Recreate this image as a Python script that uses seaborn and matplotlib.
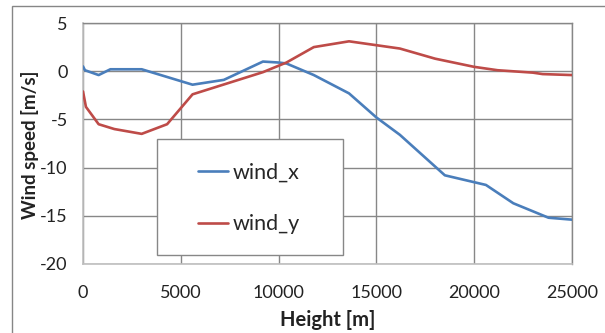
import matplotlib
matplotlib.use("Agg")
import matplotlib.pyplot as plt
from matplotlib.patches import Rectangle
from matplotlib.lines import Line2D
import seaborn as sns
import pandas as pd

# ---- data ----
wind_x_height = [0, 100, 800, 1400, 3000, 5600, 7200, 9200, 10000, 10400, 11800,
                 13600, 15000, 16200, 18500, 20600, 22000, 23800, 25000]
wind_x_speed = [0.5, 0.1, -0.4, 0.2, 0.2, -1.4, -0.9, 1.0, 0.9, 0.8, -0.4,
                -2.3, -4.8, -6.6, -10.8, -11.8, -13.7, -15.2, -15.4]

wind_y_height = [0, 150, 800, 1600, 3000, 4300, 5600, 9200, 10400, 11800, 13600,
                 16200, 18000, 20000, 21200, 23000, 23500, 25000]
wind_y_speed = [-2.1, -3.7, -5.5, -6.0, -6.5, -5.5, -2.4, -0.1, 0.9, 2.5, 3.1,
                2.35, 1.3, 0.45, 0.1, -0.15, -0.3, -0.4]

series_names = ["wind_x", "wind_y"]
series_colors = ["#4A7EBB", "#BE4B48"]
x_ticks = [0, 5000, 10000, 15000, 20000, 25000]
y_ticks = [-20, -15, -10, -5, 0, 5]
x_label = "Height [m]"
y_label = "Wind speed [m/s]"

df = pd.concat([
    pd.DataFrame({"Height": wind_x_height, "Speed": wind_x_speed, "series": series_names[0]}),
    pd.DataFrame({"Height": wind_y_height, "Speed": wind_y_speed, "series": series_names[1]}),
], ignore_index=True)

sns.set_style("white")
plt.rcParams["font.family"] = ["Lato", "DejaVu Sans"]

W, H = 605, 333
fig = plt.figure(figsize=(W / 100, H / 100), dpi=100)
ax = fig.add_axes([83 / W, 1 - 264 / H, 489 / W, 241 / H])

grid_col = "#878787"

sns.lineplot(data=df, x="Height", y="Speed", hue="series", palette=series_colors,
             sort=False, estimator=None, linewidth=1.9, ax=ax, legend=False, zorder=4)

ax.set_xlim(0, 25000)
ax.set_ylim(-20, 5)
ax.set_xticks(x_ticks)
ax.set_yticks(y_ticks)
ax.set_xticklabels([str(v) for v in x_ticks])
ax.set_yticklabels([str(v) for v in y_ticks])
ax.grid(True, color=grid_col, linewidth=1)
ax.set_axisbelow(True)

for s in ["top", "right"]:
    ax.spines[s].set_color(grid_col)
    ax.spines[s].set_linewidth(1)
for s in ["left", "bottom"]:
    ax.spines[s].set_color("#BFBFBF")
    ax.spines[s].set_linewidth(1.2)

ax.tick_params(axis="x", direction="in", length=6.5, width=1,
               labelsize=13, pad=15, labelcolor="#222222", color=grid_col)
ax.tick_params(axis="y", length=0, labelsize=13, pad=11, labelcolor="#222222")

ax.set_xlabel(x_label, fontsize=14.5, fontweight="bold", color="#222222")
ax.set_ylabel(y_label, fontsize=13.5, fontweight="bold", color="#222222")
ax.xaxis.set_label_coords(0.5, (264 - 320) / 241)
ax.xaxis.label.set_verticalalignment("center")
ax.yaxis.set_label_coords((30 - 83) / 489, (264 - 145) / 241)
ax.yaxis.label.set_verticalalignment("center")

# legend box
box = Rectangle((157 / W, 1 - 255 / H), 186 / W, 116 / H, transform=fig.transFigure,
                facecolor="white", edgecolor=grid_col, linewidth=1, zorder=5, clip_on=False)
ax.add_patch(box)
handles = [Line2D([], [], color=c, linewidth=1.9) for c in series_colors]
leg = ax.legend(handles, series_names, loc="center left",
                bbox_to_anchor=(198 / W, 1 - 198.5 / H), bbox_transform=fig.transFigure,
                frameon=False, fontsize=15.5, borderpad=0, borderaxespad=0,
                handlelength=1.4, handletextpad=0.2, labelspacing=1.45)
leg.set_zorder(6)

# outer chart border
fig.patches.append(Rectangle((12 / W, -0.1), 1.2, (H - 6) / H + 0.1, transform=fig.transFigure,
                             facecolor="none", edgecolor="#868686", linewidth=1, figure=fig))

fig.savefig("out.png", dpi=100)
